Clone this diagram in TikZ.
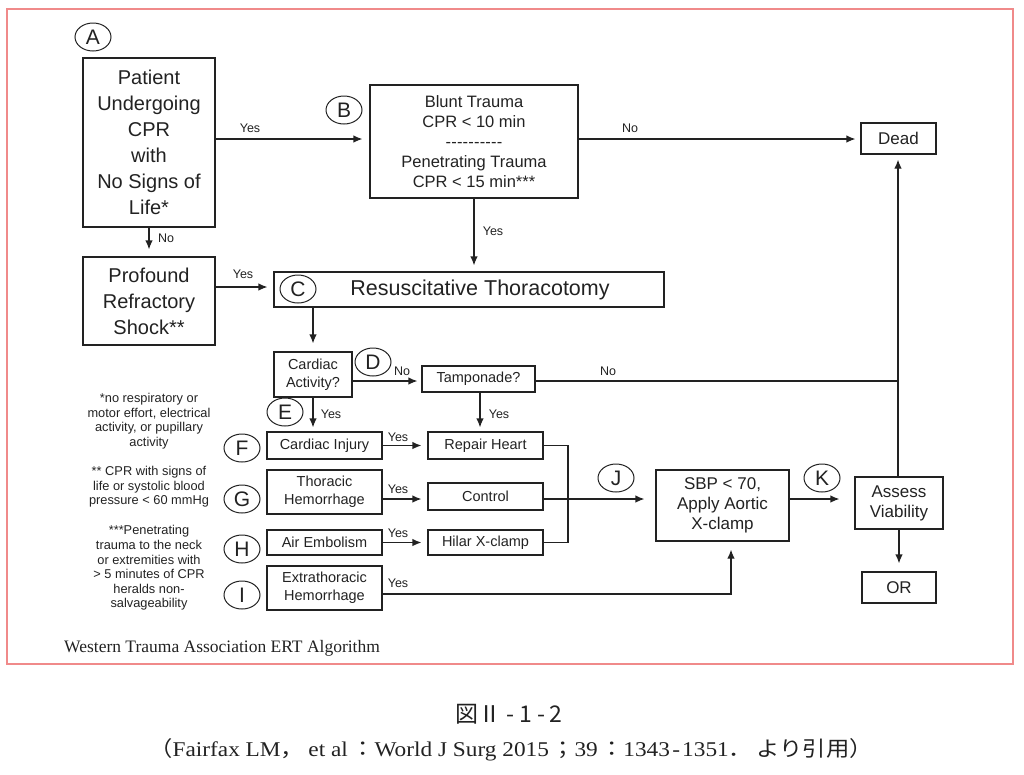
\documentclass[tikz,border=0pt]{standalone}
\usepackage{fontspec}
\setmainfont{Liberation Sans}
\newfontfamily\serifface{Liberation Serif}
\newfontfamily\cjk{Noto Sans CJK JP}
\usetikzlibrary{shapes.geometric,arrows.meta,calc}
\definecolor{framecol}{HTML}{F08A8A}
\definecolor{ink}{HTML}{222222}
\newcommand\hy{-\kern0.2pt}
\begin{document}
\begin{tikzpicture}[x=1pt,y=-1pt,
  box/.style={draw=ink, line width=1.2pt, rectangle, inner sep=0pt, align=center, text=ink},
  lab/.style={ellipse, draw=ink, line width=1pt, minimum width=36pt, minimum height=28pt, inner sep=0pt, font=\fontsize{21}{21}\selectfont, text=ink},
  yn/.style={font=\fontsize{12.5}{13}\selectfont, text=ink, inner sep=0pt},
  arr/.style={draw=ink, line width=1.2pt, -{Latex[length=9pt,width=7.5pt]}},
  ln/.style={draw=ink, line width=1.2pt},
  note/.style={align=center, font=\fontsize{12.8}{14.6}\selectfont, text=ink, inner sep=0pt},
  big/.style={font=\fontsize{20}{26}\selectfont},
  mid/.style={font=\fontsize{16.5}{20}\selectfont},
  med/.style={font=\fontsize{17}{20}\selectfont},
  sml/.style={font=\fontsize{14.5}{18}\selectfont},
]
\useasboundingbox (0,0) rectangle (1024,774);
\draw[framecol, line width=1.5pt] (7,9) rectangle (1013,664);

% boxes
\node[box,big,minimum width=132pt,minimum height=169pt] (a) at (149,142.5) {Patient\\Undergoing\\CPR\\with\\No Signs of\\Life*};
\node[box,big,minimum width=132pt,minimum height=88pt] (prof) at (149,301) {Profound\\Refractory\\Shock**};
\node[box,mid,minimum width=208pt,minimum height=113pt] (b) at (474,141.5) {Blunt Trauma\\CPR < 10 min\\\hy\hy\hy\hy\hy\hy\hy\hy\hy -\\Penetrating Trauma\\CPR < 15 min***};
\node[box,med,minimum width=75pt,minimum height=31pt] (dead) at (898.5,138.5) {Dead};
\node[box,minimum width=390pt,minimum height=35pt] (c) at (469,289.5) {};
\node[font=\fontsize{21.5}{22}\selectfont,text=ink,inner sep=0pt] (ctext) at (480,290) {Resuscitative Thoracotomy};
\node[box,sml,minimum width=78pt,minimum height=45pt] (card) at (313,374.5) {Cardiac\\Activity?};
\node[box,sml,minimum width=113pt,minimum height=26pt] (tamp) at (478.5,379) {Tamponade?};
\node[box,sml,minimum width=115pt,minimum height=27pt] (inj) at (324.5,445.5) {Cardiac Injury};
\node[box,sml,minimum width=115pt,minimum height=27pt] (rep) at (485.5,445.5) {Repair Heart};
\node[box,sml,minimum width=115pt,minimum height=44pt] (thor) at (324.5,492) {Thoracic\\Hemorrhage};
\node[box,sml,minimum width=115pt,minimum height=27pt] (ctrl) at (485.5,496.5) {Control};
\node[box,sml,minimum width=115pt,minimum height=25pt] (air) at (324.5,542.5) {Air Embolism};
\node[box,sml,minimum width=115pt,minimum height=25pt] (hil) at (485.5,542.5) {Hilar X-clamp};
\node[box,sml,minimum width=115pt,minimum height=44pt] (ext) at (324.5,588) {Extrathoracic\\Hemorrhage};
\node[box,med,minimum width=133pt,minimum height=71pt] (sbp) at (722.5,505.5) {SBP < 70,\\Apply Aortic\\X-clamp};
\node[box,med,minimum width=88pt,minimum height=52pt] (assess) at (899,503) {Assess\\Viability};
\node[box,med,minimum width=74pt,minimum height=31pt] (or) at (899,587.5) {OR};

% letter labels
\node[lab] (la) at (93,37) {A};
\node[lab] (lb) at (344,110) {B};
\node[lab] (lc) at (298,289) {C};
\node[lab] (ld) at (373,362) {D};
\node[lab] (le) at (285,412) {E};
\node[lab] (lf) at (242,448) {F};
\node[lab] (lg) at (242,499) {G};
\node[lab] (lh) at (242,549) {H};
\node[lab] (li) at (242,595) {I};
\node[lab] (lj) at (616,478) {J};
\node[lab] (lk) at (822,478) {K};

% helper coordinates
\coordinate (abline) at (0,139);
\coordinate (bdline) at (0,139);
\coordinate (pcline) at (0,287);
\coordinate (cdline) at (0,381);
\coordinate (tv) at (898,381);
\coordinate (gline) at (0,499);
\coordinate (xc) at (731,594);
\coordinate (jx) at (568,499);

% connectors
\draw[arr,shorten >=7pt] (a.east|-abline) -- (b.west|-abline);
\draw[arr,shorten >=5pt] (b.east|-bdline) -- (dead.west|-bdline);
\draw[arr,shorten >=6pt] (b.south) -- (b.south|-c.north);
\draw[arr,shorten >=7pt] (a.south) -- (prof.north);
\draw[arr,shorten >=6pt] (prof.east|-pcline) -- (c.west|-pcline);
\draw[arr,shorten >=8pt] (c.south-|card.north) -- (card.north);
\draw[arr,shorten >=4pt] (card.east|-cdline) -- (tamp.west|-cdline);
\draw[ln] (tamp.east|-tv) -- (tv);
\draw[arr,shorten >=5pt] (assess.north-|tv) -- (dead.south-|tv);
\draw[arr,shorten >=4pt] (card.south) -- (card.south|-inj.north);
\draw[arr,shorten >=4pt] (tamp.south-|480,0) -- (rep.north-|480,0);
\draw[arr,shorten >=6pt] (inj.east) -- (rep.west);
\draw[arr,shorten >=6pt] (thor.east|-gline) -- (ctrl.west|-gline);
\draw[arr,shorten >=6pt] (air.east) -- (hil.west);
\draw[ln] (rep.east) -- (rep.east-|jx) -- (hil.east-|jx) -- (hil.east);
\draw[arr,shorten >=11pt] (ctrl.east|-gline) -- (sbp.west|-gline);
\draw[arr,shorten >=15pt] (sbp.east|-gline) -- (assess.west|-gline);
\draw[arr,shorten >=8pt] (assess.south) -- (or.north);
\draw[arr,shorten >=8pt] (ext.east|-xc) -- (xc) -- (xc|-sbp.south);

% yes/no labels
\node[yn] (y1) at (250,128) {Yes};
\node[yn] (n1) at (166,238) {No};
\node[yn] (y2) at (243,274) {Yes};
\node[yn] (n2) at (630,128) {No};
\node[yn] (y3) at (493,231) {Yes};
\node[yn] (n3) at (402,371) {No};
\node[yn] (n4) at (608,371) {No};
\node[yn] (y4) at (331,414) {Yes};
\node[yn] (y5) at (499,414) {Yes};
\node[yn] (y6) at (398,437) {Yes};
\node[yn] (y7) at (398,489) {Yes};
\node[yn] (y8) at (398,533) {Yes};
\node[yn] (y9) at (398,583) {Yes};

% footnotes
\node[note] (fn1) at (149,421) {*no respiratory or\\motor effort, electrical\\activity, or pupillary\\activity};
\node[note] (fn2) at (149,487) {** CPR with signs of\\life or systolic blood\\pressure < 60 mmHg};
\node[note] (fn3) at (149,568) {***Penetrating\\trauma to the neck\\or extremities with\\> 5 minutes of CPR\\heralds non-\\salvageability};

% captions
\node[anchor=west,inner sep=0pt,font=\serifface\fontsize{17.5}{17.5}\selectfont,text=ink] (title) at (64,648) {Western Trauma Association ERT Algorithm};
\node[inner sep=0pt,font=\cjk\fontsize{23}{23}\selectfont,text=ink] (fig) at (509,714) {図Ⅱ\hspace{5pt}-\hspace{5pt}1\hspace{5pt}-\hspace{5pt}2};
\node[inner sep=0pt,font=\serifface\fontsize{21}{21}\selectfont,text=ink] (cite) at (511,750) {\scalebox{1.11}[1]{{\cjk （}Fairfax LM{\cjk ，}\hspace{4pt}et al\hspace{3pt}{\cjk ：}World J Surg 2015\hspace{2pt}{\cjk ；}39\hspace{2pt}{\cjk ：}1343\hspace{2pt}-\hspace{2pt}1351{\cjk ．}\hspace{4pt}{\cjk より引用）}}};
\end{tikzpicture}
\end{document}
